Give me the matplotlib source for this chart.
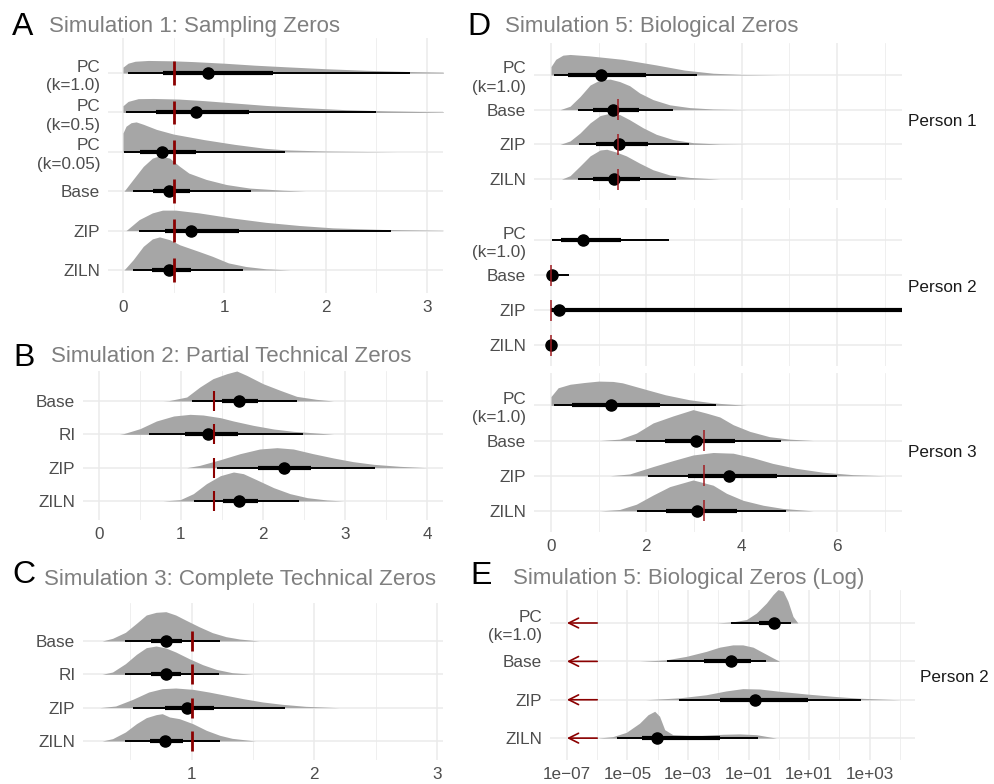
import numpy as np
import matplotlib.pyplot as plt
from matplotlib.ticker import NullFormatter

plt.rcParams["font.family"] = ["Liberation Sans", "DejaVu Sans"]

# ---- Panel A: Simulation 1, Sampling Zeros ----
a_labels = ["PC\n(k=1.0)", "PC\n(k=0.5)", "PC\n(k=0.05)", "Base", "ZIP", "ZILN"]
a_median = [0.84, 0.72, 0.38, 0.45, 0.67, 0.45]
a_thick_lo = [0.39, 0.33, 0.17, 0.30, 0.41, 0.29]
a_thick_hi = [1.48, 1.24, 0.72, 0.66, 1.14, 0.67]
a_thin_lo = [0.05, 0.03, 0.01, 0.10, 0.16, 0.10]
a_thin_hi = [2.83, 2.50, 1.60, 1.26, 2.64, 1.18]
a_slab_x = [
    [0, 0, 0.05, 0.12, 0.25, 0.5, 0.7, 1.0, 1.3, 1.6, 2.0, 2.4, 2.8, 3.2],
    [0, 0, 0.05, 0.15, 0.3, 0.55, 0.8, 1.1, 1.4, 1.8, 2.2, 2.6, 3.0, 3.2],
    [0, 0, 0.03, 0.08, 0.13, 0.2, 0.33, 0.5, 0.8, 1.1, 1.4, 1.6, 2.0, 2.7],
    [0.01, 0.1, 0.2, 0.29, 0.36, 0.46, 0.56, 0.65, 0.82, 1.02, 1.25, 1.58, 1.8],
    [0.03, 0.16, 0.29, 0.39, 0.52, 0.75, 1.08, 1.41, 1.74, 2.07, 2.56, 3.2],
    [0.01, 0.1, 0.2, 0.29, 0.36, 0.46, 0.56, 0.75, 0.88, 1.04, 1.21, 1.41, 1.65],
]
a_slab_h = [
    [0, 0.15, 0.25, 0.30, 0.32, 0.31, 0.29, 0.25, 0.2, 0.16, 0.11, 0.07, 0.04, 0.02],
    [0, 0.17, 0.28, 0.35, 0.355, 0.34, 0.3, 0.24, 0.18, 0.12, 0.07, 0.04, 0.02, 0.01],
    [0, 0.48, 0.65, 0.74, 0.76, 0.7, 0.57, 0.45, 0.31, 0.19, 0.09, 0.05, 0.02, 0],
    [0, 0.3, 0.63, 0.84, 0.9, 0.84, 0.63, 0.46, 0.3, 0.17, 0.08, 0.025, 0],
    [0, 0.28, 0.45, 0.52, 0.52, 0.45, 0.32, 0.21, 0.13, 0.07, 0.03, 0.005],
    [0, 0.26, 0.6, 0.79, 0.84, 0.77, 0.64, 0.47, 0.35, 0.18, 0.09, 0.03, 0],
]
a_truth = 0.5

# ---- Panel B: Simulation 2, Partial Technical Zeros ----
b_labels = ["Base", "RI", "ZIP", "ZILN"]
b_median = [1.71, 1.33, 2.25, 1.71]
b_thick_lo = [1.50, 1.05, 1.94, 1.51]
b_thick_hi = [1.94, 1.70, 2.59, 1.94]
b_thin_lo = [1.14, 0.61, 1.44, 1.16]
b_thin_hi = [2.42, 2.49, 3.37, 2.44]
b_slab_x = [
    [0.78, 0.85, 1.07, 1.23, 1.39, 1.56, 1.68, 1.8, 2.0, 2.21, 2.41, 2.65, 2.86],
    [0.25, 0.3, 0.5, 0.7, 0.91, 1.11, 1.27, 1.48, 1.64, 1.88, 2.13, 2.37, 2.65, 2.86],
    [1.07, 1.23, 1.48, 1.72, 1.96, 2.17, 2.37, 2.61, 2.86, 3.1, 3.35, 3.67, 4.0],
    [0.78, 0.99, 1.15, 1.31, 1.48, 1.64, 1.76, 1.92, 2.13, 2.33, 2.54, 2.78, 2.98],
]
b_slab_h = [
    [0, 0.01, 0.12, 0.42, 0.67, 0.82, 0.9, 0.77, 0.52, 0.32, 0.14, 0.05, 0],
    [0, 0.02, 0.17, 0.4, 0.55, 0.6, 0.58, 0.5, 0.4, 0.27, 0.16, 0.09, 0.04, 0],
    [0, 0.07, 0.24, 0.42, 0.56, 0.6, 0.56, 0.42, 0.29, 0.18, 0.1, 0.04, 0],
    [0, 0.04, 0.22, 0.52, 0.76, 0.87, 0.82, 0.64, 0.4, 0.22, 0.1, 0.03, 0],
]
b_truth = 1.4

# ---- Panel C: Simulation 3, Complete Technical Zeros ----
c_labels = ["Base", "RI", "ZIP", "ZILN"]
c_median = [0.79, 0.79, 0.96, 0.78]
c_thick_lo = [0.67, 0.67, 0.78, 0.66]
c_thick_hi = [0.92, 0.91, 1.18, 0.93]
c_thin_lo = [0.46, 0.46, 0.52, 0.46]
c_thin_hi = [1.23, 1.22, 1.76, 1.23]
c_slab_x = [
    [0.27, 0.355, 0.46, 0.55, 0.63, 0.71, 0.79, 0.87, 0.95, 1.06, 1.17, 1.28, 1.39, 1.55],
    [0.27, 0.355, 0.46, 0.55, 0.63, 0.71, 0.79, 0.87, 0.98, 1.09, 1.2, 1.33, 1.5],
    [0.25, 0.38, 0.52, 0.65, 0.76, 0.87, 1.01, 1.14, 1.28, 1.42, 1.58, 1.74, 1.93, 2.2],
    [0.27, 0.355, 0.46, 0.55, 0.63, 0.71, 0.76, 0.82, 0.9, 1.01, 1.12, 1.23, 1.33, 1.52],
]
c_slab_h = [
    [0, 0.08, 0.26, 0.53, 0.78, 0.86, 0.88, 0.78, 0.63, 0.43, 0.25, 0.13, 0.06, 0],
    [0, 0.07, 0.32, 0.6, 0.8, 0.85, 0.79, 0.67, 0.47, 0.29, 0.15, 0.05, 0],
    [0, 0.05, 0.25, 0.47, 0.57, 0.59, 0.55, 0.47, 0.37, 0.27, 0.17, 0.1, 0.04, 0],
    [0, 0.07, 0.27, 0.52, 0.7, 0.79, 0.82, 0.72, 0.67, 0.52, 0.32, 0.17, 0.08, 0],
]
c_truth = 1.0

# ---- Panel D: Simulation 5, Biological Zeros (three persons) ----
d_labels = ["PC\n(k=1.0)", "Base", "ZIP", "ZILN"]
d_persons = ["Person 1", "Person 2", "Person 3"]
d_truth = [1.4, 0.0, 3.2]

d1_median = [1.05, 1.30, 1.43, 1.33]
d1_thick_lo = [0.36, 0.89, 0.94, 0.89]
d1_thick_hi = [1.99, 1.85, 2.04, 1.86]
d1_thin_lo = [0.06, 0.57, 0.59, 0.56]
d1_thin_hi = [3.07, 2.56, 2.89, 2.63]
d1_slab_x = [
    [0, 0, 0.1, 0.25, 0.4, 0.8, 1.5, 2.2, 2.8, 3.4, 4.0, 4.8],
    [0.19, 0.4, 0.61, 0.82, 1.03, 1.24, 1.44, 1.65, 1.86, 2.14, 2.49, 2.91, 3.4, 4.1],
    [0.19, 0.4, 0.61, 0.82, 1.03, 1.24, 1.44, 1.65, 1.93, 2.21, 2.56, 2.98, 3.54, 4.1],
    [0.22, 0.4, 0.61, 0.82, 1.03, 1.17, 1.37, 1.58, 1.86, 2.14, 2.49, 2.91, 3.54],
]
d1_slab_h = [
    [0, 0.24, 0.45, 0.57, 0.59, 0.55, 0.45, 0.29, 0.14, 0.05, 0.015, 0],
    [0, 0.1, 0.38, 0.71, 0.86, 0.88, 0.81, 0.69, 0.48, 0.29, 0.14, 0.06, 0.02, 0],
    [0, 0.1, 0.33, 0.62, 0.83, 0.9, 0.86, 0.71, 0.48, 0.29, 0.14, 0.05, 0.01, 0],
    [0, 0.1, 0.38, 0.67, 0.84, 0.86, 0.78, 0.67, 0.46, 0.27, 0.12, 0.05, 0],
]

d2_median = [0.68, 0.02, 0.17, 0.0]
d2_thick_lo = [0.22, 0.0, 0.0, 0.0]
d2_thick_hi = [1.46, 0.08, 20.0, 0.05]
d2_thin_lo = [0.03, 0.0, 0.0, 0.0]
d2_thin_hi = [2.47, 0.38, 20.0, 0.13]
d2_slab_x = [[], [], [], []]
d2_slab_h = [[], [], [], []]

d3_median = [1.25, 3.05, 3.73, 3.06]
d3_thick_lo = [0.45, 2.39, 2.88, 2.41]
d3_thick_hi = [2.28, 3.85, 4.74, 3.89]
d3_thin_lo = [0.06, 1.78, 2.04, 1.81]
d3_thin_hi = [3.45, 4.83, 6.0, 4.92]
d3_slab_x = [
    [0, 0, 0.15, 0.4, 0.7, 1.0, 1.3, 1.5, 2.0, 2.4, 2.9, 3.4, 4.1],
    [1.03, 1.44, 1.79, 2.14, 2.56, 2.98, 3.26, 3.54, 3.82, 4.17, 4.58, 5.0, 5.5],
    [1.24, 1.65, 2.14, 2.56, 2.98, 3.4, 3.82, 4.24, 4.65, 5.14, 5.7, 6.33, 7.0],
    [1.03, 1.44, 1.79, 2.14, 2.49, 2.98, 3.4, 3.68, 4.03, 4.45, 4.86, 5.5],
]
d3_slab_h = [
    [0, 0.25, 0.5, 0.6, 0.65, 0.69, 0.68, 0.64, 0.45, 0.3, 0.16, 0.07, 0],
    [0, 0.04, 0.21, 0.5, 0.7, 0.88, 0.78, 0.67, 0.45, 0.26, 0.11, 0.04, 0],
    [0, 0.05, 0.26, 0.43, 0.59, 0.66, 0.64, 0.51, 0.35, 0.21, 0.1, 0.03, 0],
    [0, 0.04, 0.19, 0.45, 0.69, 0.88, 0.73, 0.5, 0.3, 0.16, 0.07, 0],
]

# ---- Panel E: Simulation 5, Biological Zeros (Log), Person 2; values are log10 ----
e_labels = ["PC\n(k=1.0)", "Base", "ZIP", "ZILN"]
e_median = [-0.17, -1.57, -0.80, -4.03]
e_thick_lo = [-0.66, -2.47, -1.93, -4.52]
e_thick_hi = [0.0, -0.91, 0.96, -1.93]
e_thin_lo = [-1.57, -3.68, -3.31, -5.35]
e_thin_hi = [0.39, -0.41, 2.70, -0.69]
e_slab_x = [
    [-2.07, -1.52, -1.07, -0.74, -0.41, -0.19, -0.03, 0.14, 0.3, 0.47, 0.63],
    [-4.6, -3.72, -3.06, -2.4, -1.96, -1.52, -1.19, -0.85, -0.52, -0.19, 0.03],
    [-4.4, -3.28, -2.4, -1.74, -1.19, -0.63, 0.03, 0.91, 1.79, 2.67, 4.0],
    [-6.0, -5.48, -5.04, -4.6, -4.32, -4.1, -3.94, -3.77, -3.5, -2.73, -1.85, -1.3, -0.74, -0.3, -0.08],
]
e_slab_h = [
    [0, 0.03, 0.09, 0.26, 0.52, 0.74, 0.87, 0.83, 0.57, 0.17, 0],
    [0, 0.04, 0.13, 0.26, 0.37, 0.43, 0.43, 0.37, 0.23, 0.09, 0],
    [0, 0.05, 0.13, 0.23, 0.29, 0.28, 0.22, 0.15, 0.09, 0.04, 0],
    [0, 0.04, 0.15, 0.39, 0.61, 0.7, 0.57, 0.22, 0.09, 0.06, 0.1, 0.11, 0.09, 0.03, 0],
]
e_log_ticks = [-7, -5, -3, -1, 1, 3]
e_log_minor = [-6, -4, -2, 0, 2, 4]

W, H = 995, 784
SLAB = "#A6A6A6"
GRID = "#EBEBEB"
TXT = "#4D4D4D"
RED = "#8B0000"
FS = 12.3

fig = plt.figure(figsize=(W / 100, H / 100), dpi=100)


def px_axes(left, top, right, bottom):
    return fig.add_axes([left / W, 1 - bottom / H, (right - left) / W, (bottom - top) / H])


def style(ax, labels, xmaj, xmin):
    n = len(labels)
    ax.set_yticks(range(n))
    ax.set_yticklabels(labels[::-1], linespacing=1.3)
    ax.set_xticks(xmaj)
    ax.set_xticks(xmin, minor=True)
    ax.xaxis.set_minor_formatter(NullFormatter())
    ax.grid(True, which="major", color=GRID, lw=1.1, zorder=0)
    ax.grid(True, which="minor", axis="x", color=GRID, lw=0.55, zorder=0)
    ax.set_axisbelow(True)
    for s in ax.spines.values():
        s.set_visible(False)
    ax.tick_params(which="both", length=0, labelsize=FS, labelcolor=TXT)
    ax.tick_params(axis="y", pad=5.5)
    ax.tick_params(axis="x", pad=5)


def draw(ax, slab_x, slab_h, thin_lo, thin_hi, thick_lo, thick_hi, med,
         truth=None, truth_rows=(), truth_lw=2.0, truth_col=RED, tf=lambda v: v):
    n = len(med)
    for i in range(n):
        y = n - 1 - i
        if len(slab_x[i]):
            xs = tf(np.array(slab_x[i], dtype=float))
            ax.fill_between(xs, y, y + np.array(slab_h[i]), color=SLAB, lw=0, zorder=2)
        ax.plot(tf(np.array([thin_lo[i], thin_hi[i]])), [y, y], color="black", lw=1.4,
                solid_capstyle="butt", zorder=3)
        ax.plot(tf(np.array([thick_lo[i], thick_hi[i]])), [y, y], color="black", lw=3.0,
                solid_capstyle="butt", zorder=3)
        ax.plot(tf(np.array([med[i]])), [y], "o", ms=8, color="black", zorder=4)
        if truth is not None and i in truth_rows:
            ax.plot([truth, truth], [y - 0.3, y + 0.3], color=truth_col, lw=truth_lw,
                    solid_capstyle="butt", zorder=5)


# Panel A
ax = px_axes(108, 38, 443, 293)
draw(ax, a_slab_x, a_slab_h, a_thin_lo, a_thin_hi, a_thick_lo, a_thick_hi, a_median,
     a_truth, range(6), 2.0)
style(ax, a_labels, [0, 1, 2, 3], [0.5, 1.5, 2.5])
ax.set_xlim(-0.148, 3.158)
ax.set_ylim(-0.584, 5.89)

# Panel B
ax = px_axes(83, 371, 443, 520)
draw(ax, b_slab_x, b_slab_h, b_thin_lo, b_thin_hi, b_thick_lo, b_thick_hi, b_median,
     b_truth, range(4), 1.5)
style(ax, b_labels, [0, 1, 2, 3, 4], [0.5, 1.5, 2.5, 3.5])
ax.set_xlim(-0.195, 4.195)
ax.set_ylim(-0.57, 3.9)

# Panel C
ax = px_axes(83, 603, 443, 760)
draw(ax, c_slab_x, c_slab_h, c_thin_lo, c_thin_hi, c_thick_lo, c_thick_hi, c_median,
     c_truth, range(4), 2.0)
style(ax, c_labels, [1, 2, 3], [0.5, 1.5, 2.5])
ax.set_xlim(0.114, 3.05)
ax.set_ylim(-0.57, 4.14)

# Panel D (facets)
d_boxes = [(43, 200), (208, 366), (373, 532)]
d_data = [
    (d1_slab_x, d1_slab_h, d1_thin_lo, d1_thin_hi, d1_thick_lo, d1_thick_hi, d1_median),
    (d2_slab_x, d2_slab_h, d2_thin_lo, d2_thin_hi, d2_thick_lo, d2_thick_hi, d2_median),
    (d3_slab_x, d3_slab_h, d3_thin_lo, d3_thin_hi, d3_thick_lo, d3_thick_hi, d3_median),
]
for k, ((top, bot), data) in enumerate(zip(d_boxes, d_data)):
    ax = px_axes(534, top, 902, bot)
    draw(ax, *data, truth=d_truth[k], truth_rows=(1, 2, 3), truth_lw=1.1, truth_col="#A01C22")
    style(ax, d_labels, [0, 2, 4, 6], [1, 3, 5, 7])
    ax.set_xlim(-0.356, 7.36)
    ax.set_ylim(-0.6, 3.92)
    if k < 2:
        ax.set_xticklabels([])
    fig.text(908 / W, 1 - (top + bot) / 2 / H, d_persons[k], fontsize=FS,
             color="#1A1A1A", va="center", ha="left")

# Panel E (log scale)
ax = px_axes(550, 590, 915, 760)
ax.set_xscale("log")
draw(ax, e_slab_x, e_slab_h, e_thin_lo, e_thin_hi, e_thick_lo, e_thick_hi, e_median,
     tf=lambda v: np.power(10.0, v))
style(ax, e_labels, [10.0 ** p for p in e_log_ticks], [10.0 ** p for p in e_log_minor])
ax.set_xticklabels([("1e%+03d" % p).replace("-", "\u2212") for p in e_log_ticks])
ax.set_xlim(10 ** -7.56, 10 ** 4.5)
ax.set_ylim(-0.57, 3.86)
for i in range(4):
    ax.annotate("", xy=(1e-7, i), xytext=(1e-6, i),
                arrowprops=dict(arrowstyle="->,head_length=0.7,head_width=0.35",
                                color=RED, lw=1.2, shrinkA=0, shrinkB=0), zorder=5)
fig.text(920 / W, 1 - 677 / H, "Person 2", fontsize=FS, color="#1A1A1A", va="center", ha="left")

# Panel titles
titles = [
    ("A", 12, 35, "Simulation 1: Sampling Zeros", 49, 32),
    ("B", 13, 366, "Simulation 2: Partial Technical Zeros", 51, 362),
    ("C", 12, 583, "Simulation 3: Complete Technical Zeros", 44, 585),
    ("D", 467, 35, "Simulation 5: Biological Zeros", 505, 32),
    ("E", 470, 584, "Simulation 5: Biological Zeros (Log)", 513, 584),
]
for let, lx, ly, t, tx, ty in titles:
    fig.text(lx / W, 1 - ly / H, let, fontsize=23, color="black", va="baseline")
    fig.text(tx / W, 1 - ty / H, t, fontsize=16, color="#7F7F7F", va="baseline")

fig.savefig("out.png", dpi=100)
